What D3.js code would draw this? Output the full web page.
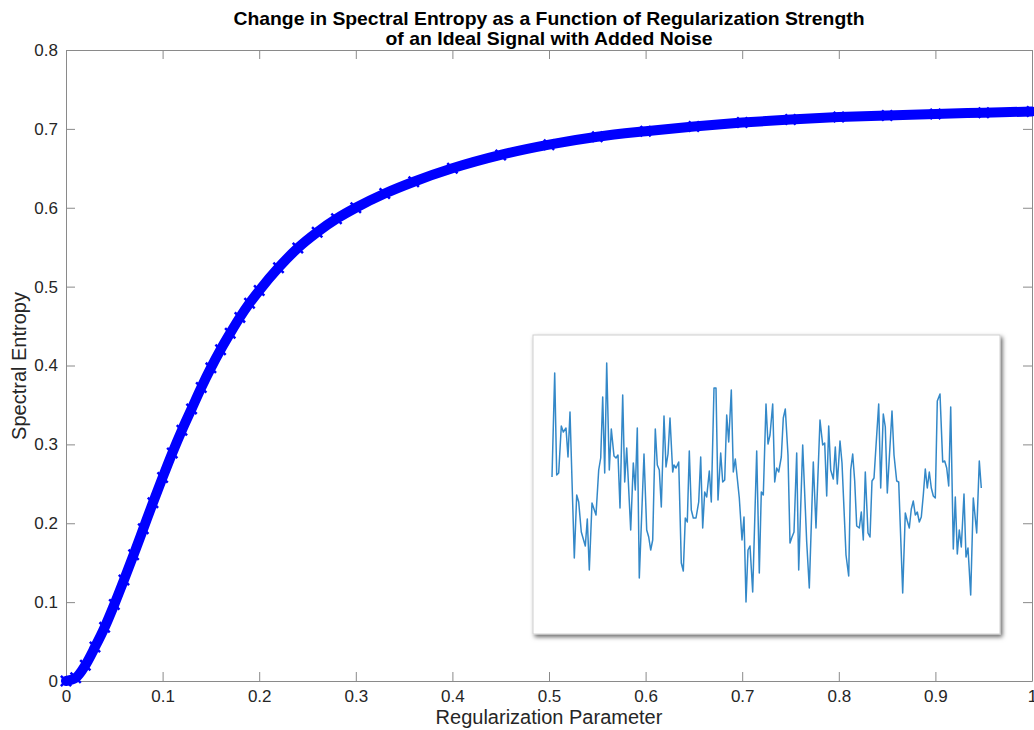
<!DOCTYPE html>
<html>
<head>
<meta charset="utf-8">
<script src="https://cdn.jsdelivr.net/npm/d3@7"></script>
<style>
  body { margin: 0; background: #fff; }
  text { font-family: "Liberation Sans", Arial, Helvetica, sans-serif; }
</style>
</head>
<body>
<svg id="chart" width="1034" height="730"></svg>
<script>
// ---- data ----
var titleLines = ["Change in Spectral Entropy as a Function of Regularization Strength",
                  "of an Ideal Signal with Added Noise"];
var xLabel = "Regularization Parameter";
var yLabel = "Spectral Entropy";
var xTicks = [0, 0.1, 0.2, 0.3, 0.4, 0.5, 0.6, 0.7, 0.8, 0.9, 1];
var yTicks = [0, 0.1, 0.2, 0.3, 0.4, 0.5, 0.6, 0.7, 0.8];

// entropy vs regularization parameter
var regParam = [0, 0.01, 0.02, 0.03, 0.04, 0.05, 0.06, 0.07, 0.08, 0.09,
                0.10, 0.11, 0.12, 0.13, 0.14, 0.15, 0.16, 0.17, 0.18, 0.19,
                0.20, 0.22, 0.24, 0.26, 0.28, 0.30, 0.33, 0.36, 0.40, 0.45,
                0.50, 0.55, 0.60, 0.65, 0.70, 0.75, 0.80, 0.85, 0.90, 0.95, 1.00];
var entropy = [0, 0.004, 0.02, 0.043, 0.068, 0.097, 0.128, 0.16, 0.193, 0.226,
               0.258, 0.289, 0.318, 0.345, 0.372, 0.397, 0.42, 0.441, 0.461, 0.479,
               0.495, 0.524, 0.549, 0.569, 0.586, 0.600, 0.618, 0.633, 0.650, 0.667,
               0.680, 0.690, 0.697, 0.703, 0.708, 0.712, 0.715, 0.717, 0.719, 0.7205, 0.722];

// inset: the noisy signal (sample position, amplitude)
var noiseT = [0, 2.7, 4.7, 6.7, 9.3, 11.3, 14, 16, 18, 22.3,
  24.7, 26.7, 29.3, 33.3, 35.3, 37.3, 40, 44, 46.7, 48.7,
  50.7, 52.7, 54.7, 57.3, 59.3, 62, 64, 66, 68, 70.7,
  72.7, 74.7, 78.7, 81.3, 83.3, 85.3, 87.3, 92, 94.7, 96.7,
  98.7, 100.7, 103.3, 105.3, 107.3, 109.3, 112, 114, 116, 118,
  120.7, 122, 124, 126.7, 129.3, 131.3, 133.3, 135.3, 137.3, 139.3,
  141.3, 144, 146.7, 148.7, 150.7, 152.7, 154.7, 157.3, 159.3, 162,
  164, 166, 168.7, 170.7, 172.7, 174.7, 176.7, 179.3, 181.3, 183.3,
  187.3, 190, 192, 194, 196, 198, 200.7, 204.7, 207.3, 209.3,
  211.3, 214, 216, 218, 220.7, 222.7, 224.7, 226.7, 229.3, 231.3,
  233.3, 236, 238, 240, 242, 244.7, 246.7, 250.7, 254.7, 257.3,
  261.3, 264, 268, 270.7, 272.7, 274.7, 276.7, 278.7, 281.3, 283.3,
  285.3, 288, 290, 294, 296.7, 298.7, 300.7, 302.7, 304.7, 307.3,
  309.3, 311.3, 313.3, 316, 318, 320, 322, 324, 326.7, 328.7,
  331.3, 333.3, 335.3, 340, 342, 344.7, 346.7, 350.7, 353.3, 355.3,
  357.3, 359.3, 361.3, 363.3, 365.3, 367.3, 369.3, 371.3, 373.3, 375.3,
  377.3, 379.3, 381.3, 383.3, 385.3, 388, 390.7, 392.7, 394.7, 396.7,
  398.7, 401.3, 403.3, 405.3, 407.3, 409.3, 412, 414, 416, 418.7,
  421.3, 424.7, 427.3, 429.3];
var noiseV = [0.13, 1.17, 0.15, 0.17, 0.64, 0.58, 0.62, 0.33, 0.78, -0.68,
  -0.05, -0.12, -0.42, -0.56, -0.29, -0.80, -0.13, -0.25, 0.20, 0.32,
  0.93, 0.17, 1.27, 0.20, 0.61, 0.34, 0.32, 0.35, -0.18, 0.95,
  0.08, 0.42, -0.40, 0.27, 0.00, 0.62, -0.88, 0.36, -0.40, -0.47,
  -0.60, -0.50, 0.61, 0.25, 0.20, -0.17, 0.74, 0.23, 0.36, 0.72,
  0.18, 0.25, 0.22, 0.28, -0.73, -0.81, -0.28, -0.32, 0.39, -0.20,
  -0.28, -0.28, -0.12, 0.33, -0.38, -0.02, -0.07, 0.19, -0.12, 1.02,
  1.02, -0.10, 0.37, 0.08, 0.10, 0.75, 0.48, 1.00, 0.18, 0.31,
  -0.08, -0.50, -0.27, -1.12, -0.60, -0.56, -1.02, 0.39, -0.83, -0.02,
  -0.05, 0.86, 0.46, 0.55, 0.86, 0.08, 0.22, 0.18, 0.33, 0.72,
  0.81, 0.35, -0.53, -0.47, -0.42, 0.37, -0.80, 0.45, -0.52, -0.98,
  0.28, -0.38, 0.70, 0.45, 0.47, -0.06, 0.64, 0.20, 0.11, 0.43,
  0.06, 0.49, 0.27, -0.65, -0.86, 0.20, 0.36, 0.09, -0.36, -0.38,
  -0.22, -0.50, 0.18, -0.43, -0.47, 0.09, 0.12, 0.44, 0.86, 0.02,
  0.76, 0.63, -0.03, 0.79, 0.35, 0.09, 0.08, -1.03, -0.23, -0.31,
  -0.38, -0.19, -0.11, -0.25, -0.22, -0.32, -0.27, -0.05, 0.21, 0.02,
  0.18, 0.02, -0.06, -0.08, 0.89, 0.96, 0.28, 0.29, 0.22, 0.04,
  0.83, -0.59, -0.07, -0.64, -0.40, -0.57, -0.04, -0.67, -0.58, -1.05,
  -0.08, -0.43, 0.29, 0.02];

// ---- layout ----
var plotLeft = 66, plotRight = 1032, plotTop = 50, plotBottom = 681;
var axisColor = "#8a8a8a", labelColor = "#262626";

var svg = d3.select("#chart");

var x = d3.scaleLinear().domain([0, 1]).range([plotLeft, plotRight]);
var y = d3.scaleLinear().domain([0, 0.8]).range([plotBottom, plotTop]);

// drop shadow for the inset
var defs = svg.append("defs");
var shadow = defs.append("filter").attr("id", "shadow")
  .attr("x", "-5%").attr("y", "-5%").attr("width", "115%").attr("height", "115%");
shadow.append("feDropShadow")
  .attr("dx", 2).attr("dy", 2.5).attr("stdDeviation", 2.2)
  .attr("flood-color", "#000").attr("flood-opacity", 0.6);

// axes (box with inward ticks)
function styleAxis(g) {
  g.selectAll(".domain").attr("stroke", axisColor);
  g.selectAll(".tick line").attr("stroke", axisColor);
  g.selectAll(".tick text")
    .attr("fill", labelColor)
    .style("font-size", "17px")
    .style("font-family", "'Liberation Sans', Arial, sans-serif");
}

svg.append("g")
  .attr("transform", "translate(0," + plotBottom + ")")
  .call(d3.axisBottom(x).tickValues(xTicks).tickSizeInner(-9).tickSizeOuter(0)
        .tickPadding(9).tickFormat(d3.format("~g")))
  .call(styleAxis);

svg.append("g")
  .attr("transform", "translate(0," + plotTop + ")")
  .call(d3.axisTop(x).tickValues(xTicks).tickSizeInner(-9).tickSizeOuter(0).tickFormat(""))
  .call(styleAxis);

svg.append("g")
  .attr("transform", "translate(" + plotLeft + ",0)")
  .call(d3.axisLeft(y).tickValues(yTicks).tickSizeInner(-9).tickSizeOuter(0)
        .tickPadding(8).tickFormat(d3.format("~g")))
  .call(styleAxis);

svg.append("g")
  .attr("transform", "translate(" + plotRight + ",0)")
  .call(d3.axisRight(y).tickValues(yTicks).tickSizeInner(-9).tickSizeOuter(0).tickFormat(""))
  .call(styleAxis);

// entropy curve: dense x markers -> thick blue band
var pts = d3.zip(regParam, entropy);
var line = d3.line()
  .x(function(d) { return x(d[0]); })
  .y(function(d) { return y(d[1]); })
  .curve(d3.curveMonotoneX);

svg.append("path")
  .datum(pts)
  .attr("d", line)
  .attr("fill", "none")
  .attr("stroke", "#0000ff")
  .attr("stroke-width", 10)
  .attr("stroke-linecap", "round")
  .attr("stroke-linejoin", "round");

svg.append("g").selectAll("path")
  .data(pts)
  .join("path")
  .attr("transform", function(d) { return "translate(" + x(d[0]) + "," + y(d[1]) + ")"; })
  .attr("d", d3.symbol().type(d3.symbolX).size(70))
  .attr("fill", "none")
  .attr("stroke", "#0000ff")
  .attr("stroke-width", 2.5);

// inset with the noisy signal
var insetX = 533, insetY = 335, insetW = 467, insetH = 299;
svg.append("rect")
  .attr("x", insetX).attr("y", insetY)
  .attr("width", insetW).attr("height", insetH)
  .attr("fill", "#fff")
  .attr("stroke", "#cfcfcf")
  .attr("stroke-width", 1)
  .attr("filter", "url(#shadow)");

var ix = d3.scaleLinear().domain([0, 429.3]).range([552, 981.3]);
var iy = d3.scaleLinear().domain([-1.5, 1.5]).range([640, 340]);
var noiseLine = d3.line()
  .x(function(d) { return ix(d[0]); })
  .y(function(d) { return iy(d[1]); });

svg.append("path")
  .datum(d3.zip(noiseT, noiseV))
  .attr("d", noiseLine)
  .attr("fill", "none")
  .attr("stroke", "#3388c8")
  .attr("stroke-width", 1.5)
  .attr("stroke-linejoin", "round");

// title (bold, slightly condensed like the original)
var titleWidths = [631, 327];
svg.append("g").selectAll("text")
  .data(titleLines)
  .join("text")
  .attr("x", 549)
  .attr("y", function(d, i) { return 25 + i * 20; })
  .attr("text-anchor", "middle")
  .attr("font-weight", "bold")
  .attr("font-size", 19)
  .attr("fill", "#000")
  .attr("textLength", function(d, i) { return titleWidths[i]; })
  .attr("lengthAdjust", "spacingAndGlyphs")
  .text(function(d) { return d; });

// axis labels
svg.append("text")
  .attr("x", 549).attr("y", 724)
  .attr("text-anchor", "middle")
  .attr("font-size", 20)
  .attr("fill", labelColor)
  .text(xLabel);

svg.append("text")
  .attr("transform", "translate(26,366) rotate(-90)")
  .attr("text-anchor", "middle")
  .attr("font-size", 20)
  .attr("fill", labelColor)
  .text(yLabel);
</script>
</body>
</html>
